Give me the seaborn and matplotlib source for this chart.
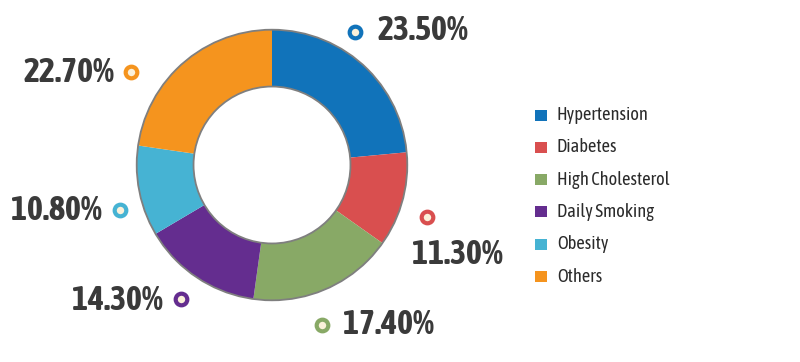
import matplotlib
matplotlib.use("Agg")
import matplotlib.pyplot as plt
import seaborn as sns
from matplotlib.patches import Circle, Rectangle

categories = ["Hypertension", "Diabetes", "High Cholesterol", "Daily Smoking", "Obesity", "Others"]
values = [23.5, 11.3, 17.4, 14.3, 10.8, 22.7]
value_labels = ["23.50%", "11.30%", "17.40%", "14.30%", "10.80%", "22.70%"]
colors = ["#1173BA", "#D94F4F", "#88A966", "#642D8F", "#46B3D3", "#F5941E"]

sns.set_theme(style="white")
FONT = ['Asap Condensed', 'Open Sans', 'DejaVu Sans']
plt.rcParams['font.family'] = FONT

W, H = 800, 362
fig = plt.figure(figsize=(W / 100, H / 100), dpi=100)

# donut
cx, cy, R = 272, 165, 138
ax = fig.add_axes([(cx - R) / W, (H - cy - R) / H, 2 * R / W, 2 * R / H])
palette = sns.color_palette(colors)
wedges, _ = ax.pie(values, colors=palette, startangle=90, counterclock=False,
                   radius=1.0, wedgeprops=dict(width=0.42, linewidth=0))
ax.add_patch(Circle((0, 0), 1.0, fill=False, edgecolor="#7f7f7f", linewidth=1.3))
ax.add_patch(Circle((0, 0), 0.58, fill=False, edgecolor="#7f7f7f", linewidth=1.3))
ax.set_xlim(-1.02, 1.02)
ax.set_ylim(-1.02, 1.02)
ax.set_aspect("equal")
ax.axis("off")

# overlay in pixel coords
ov = fig.add_axes([0, 0, 1, 1])
ov.set_xlim(0, W)
ov.set_ylim(H, 0)
ov.axis("off")
ov.patch.set_alpha(0)

# label layout: (marker x, marker y, text x, text y, ha)
layout = [
    (355, 32, 378, 31, "left"),
    (427, 217, 412, 255, "left"),
    (322, 325, 343, 325, "left"),
    (181, 299, 163, 300, "right"),
    (120, 210, 102, 210, "right"),
    (131, 72, 114, 72, "right"),
]
for (mx, my, tx, ty, ha), lab, c in zip(layout, value_labels, colors):
    ov.scatter([mx], [my], s=70, facecolor="#FBF1DA", edgecolor=c, linewidth=3, zorder=5)
    ov.text(tx, ty, lab, ha=ha, va="center", fontsize=24.5, fontweight="bold",
            color="#3A3A3A", zorder=5)

# legend
lx, ly0, dy = 535, 115, 32.3
for i, (cat, c) in enumerate(zip(categories, colors)):
    y = ly0 + i * dy
    ov.add_patch(Rectangle((lx, y - 5.5), 12, 11, facecolor=c, edgecolor="none"))
    ov.text(557, y, cat, ha="left", va="center", fontsize=13.2, color="#2b2b2b")

fig.savefig("out.png", dpi=100, facecolor="white")
